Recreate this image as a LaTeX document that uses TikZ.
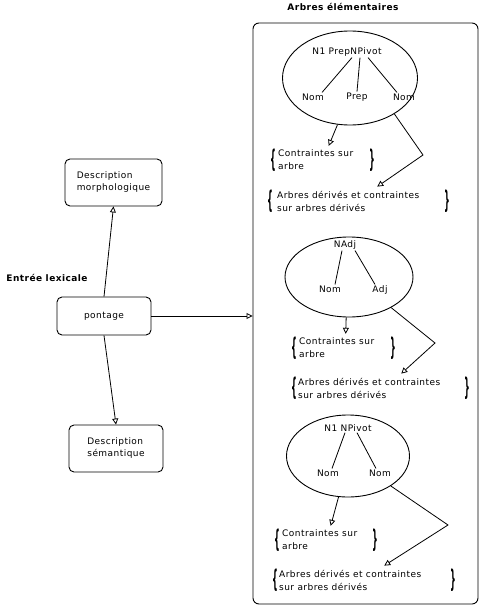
\documentclass[tikz,border=0pt]{standalone}
\usepackage{fontspec}
\setmainfont{DejaVu Sans}[LetterSpace=5]
\usetikzlibrary{
    arrows.meta,
    positioning,
    shapes.geometric
}

\newcommand{\openbrace}{\scalebox{0.9}[2.7]{\bfseries\{}}
\newcommand{\closebrace}{\scalebox{0.9}[2.7]{\bfseries\}}}

\begin{document}
\begin{tikzpicture}[
    x=1pt, y=-1pt,
    font=\fontsize{9}{12}\selectfont,
    lexbox/.style={
        rectangle,
        rounded corners=5pt,
        draw=black,
        line width=0.9pt,
        align=left
    },
    tree/.style={
        ellipse,
        draw=black,
        line width=0.9pt,
        inner sep=0pt
    },
    cat/.style={inner sep=1pt},
    branch/.style={line width=0.8pt},
    constr/.style={
        anchor=west,
        align=left,
        inner sep=0pt,
        font=\fontsize{9}{13}\selectfont
    },
    brc/.style={inner sep=0pt},
    link/.style={
        -{Triangle[open,length=6pt,width=6pt]},
        line width=0.8pt
    },
    heading/.style={font=\fontsize{9}{10}\selectfont\bfseries}
]
\useasboundingbox (0,0) rectangle (487,607);

% =========================================================
% Lexical entry
% =========================================================
\node[lexbox, minimum width=97pt, minimum height=47pt] (morph) at (113.5,182.5)
{Description\\morphologique};

\node[lexbox, minimum width=94pt, minimum height=38pt] (pont) at (104,316)
{pontage};

\node[lexbox, minimum width=94pt, minimum height=47pt] (sem) at (116,448.5)
{Description\\sémantique};

\node[heading] (entree) at (47,278) {Entrée lexicale};

% =========================================================
% Elementary trees frame
% =========================================================
\node[draw, rounded corners=6pt, line width=0.9pt, inner sep=0pt,
      minimum width=225pt, minimum height=581pt] (frame) at (365.5,313.5) {};

\node[heading] (titre) at (343,7) {Arbres élémentaires};

% ---------------------------------------------------------
% N1 PrepNPivot
% ---------------------------------------------------------
\node[tree, minimum width=135pt, minimum height=94pt] (t1) at (350,78) {};
\node[cat] (r1) at (347,52) {N1 PrepNPivot};
\node[cat] (n1a) at (313,97) {Nom};
\node[cat] (p1) at (357,97) {Prep};
\node[cat] (n1b) at (404,97) {Nom};
\draw[branch] ([xshift=5pt]r1.south) -- ([xshift=9pt]n1a.north);
\draw[branch] ([xshift=13pt]r1.south) -- (p1.north);
\draw[branch] ([xshift=21pt]r1.south) -- ([xshift=-7pt]n1b.north);

\node[constr] (c1) at (278,160) {Contraintes sur\\arbre};
\node[brc, left=2pt of c1] (c1l) {\openbrace};
\node[brc] (c1r) at (372,160) {\closebrace};

\node[constr] (a1) at (277,201) {Arbres dérivés et contraintes\\sur arbres dérivés};
\node[brc, left=4pt of a1] (a1l) {\openbrace};
\node[brc] (a1r) at (447,201) {\closebrace};

\coordinate (k1) at (423,155);
\draw[link] (t1.255) -- ([xshift=13pt,yshift=4pt]c1.north);
\draw[link] (t1.-39) -- (k1) -- ([xshift=29pt,yshift=4pt]a1.north);

% ---------------------------------------------------------
% NAdj
% ---------------------------------------------------------
\node[tree, minimum width=128pt, minimum height=80pt] (t2) at (349,277) {};
\node[cat] (r2) at (345,245) {NAdj};
\node[cat] (n2) at (330,289) {Nom};
\node[cat] (j2) at (380,290) {Adj};
\draw[branch] ([xshift=-3pt]r2.south) -- ([xshift=5pt]n2.north);
\draw[branch] ([xshift=10pt]r2.south) -- ([xshift=-5pt]j2.north);

\node[constr] (c2) at (299,348) {Contraintes sur\\arbre};
\node[brc, left=2pt of c2] (c2l) {\openbrace};
\node[brc] (c2r) at (393,348) {\closebrace};

\node[constr] (a2) at (298,388) {Arbres dérivés et contraintes\\sur arbres dérivés};
\node[brc, left=1pt of a2] (a2l) {\openbrace};
\node[brc] (a2r) at (467,388) {\closebrace};

\coordinate (k2) at (435,343);
\draw[link] (t2.266) -- ([xshift=9pt,yshift=4pt]c2.north);
\draw[link] (t2.-36) -- (k2) -- ([xshift=32pt,yshift=4pt]a2.north);

% ---------------------------------------------------------
% N1 NPivot
% ---------------------------------------------------------
\node[tree, minimum width=123pt, minimum height=82pt] (t3) at (348,456) {};
\node[cat] (r3) at (348,428) {N1 NPivot};
\node[cat] (n3a) at (328,473) {Nom};
\node[cat] (n3b) at (380,473) {Nom};
\draw[branch] ([xshift=-3pt]r3.south) -- ([xshift=4pt]n3a.north);
\draw[branch] ([xshift=9pt]r3.south) -- ([xshift=-4pt]n3b.north);

\node[constr] (c3) at (282,540) {Contraintes sur\\arbre};
\node[brc, left=2pt of c3] (c3l) {\openbrace};
\node[brc] (c3r) at (375,540) {\closebrace};

\node[constr] (a3) at (279,580) {Arbres dérivés et contraintes\\sur arbres dérivés};
\node[brc, left=1pt of a3] (a3l) {\openbrace};
\node[brc] (a3r) at (453,580) {\closebrace};

\coordinate (k3) at (448,525);
\draw[link] (t3.257) -- ([xshift=11pt,yshift=4pt]c3.north);
\draw[link] (t3.-35) -- (k3) -- ([xshift=34pt,yshift=4pt]a3.north);

% =========================================================
% Links from the lexical entry
% =========================================================
\draw[link] (pont.north) -- (morph.south);
\draw[link] (pont.south) -- (sem.north);
\draw[link] (pont.east) -- (pont.east -| frame.west);

\end{tikzpicture}
\end{document}
